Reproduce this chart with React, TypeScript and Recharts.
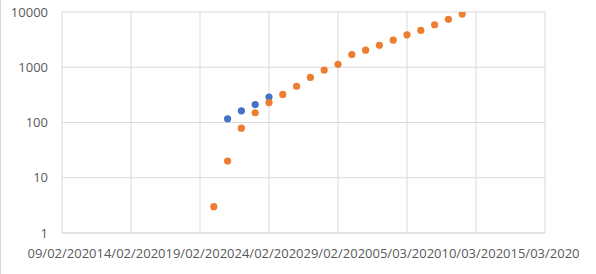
import { ScatterChart, Scatter, XAxis, YAxis, CartesianGrid } from 'recharts'

// series values
const orangeDates = [
  '20/02/2020', '21/02/2020', '22/02/2020', '23/02/2020', '24/02/2020', '25/02/2020',
  '26/02/2020', '27/02/2020', '28/02/2020', '29/02/2020', '01/03/2020', '02/03/2020',
  '03/03/2020', '04/03/2020', '05/03/2020', '06/03/2020', '07/03/2020', '08/03/2020',
  '09/03/2020',
]
const orangeValues = [3, 20, 79, 150, 229, 322, 453, 655, 888, 1128, 1694, 2036, 2502, 3089, 3858, 4636, 5883, 7375, 9172]

const blueDates = ['21/02/2020', '22/02/2020', '23/02/2020', '24/02/2020']
const blueValues = [117, 163, 211, 288]

const xTickLabels = [
  '09/02/2020', '14/02/2020', '19/02/2020', '24/02/2020',
  '29/02/2020', '05/03/2020', '10/03/2020', '15/03/2020',
]
const yTicks = [1, 10, 100, 1000, 10000]

const DAY = 86400000

function toDay(s: string) {
  const [d, m, y] = s.split('/').map(Number)
  return Date.UTC(y, m - 1, d) / DAY
}

function fmtDay(v: number) {
  const dt = new Date(v * DAY)
  const dd = String(dt.getUTCDate()).padStart(2, '0')
  const mm = String(dt.getUTCMonth() + 1).padStart(2, '0')
  return `${dd}/${mm}/${dt.getUTCFullYear()}`
}

const orange = orangeDates.map((d, i) => ({ x: toDay(d), y: orangeValues[i] }))
const blue = blueDates.map((d, i) => ({ x: toDay(d), y: blueValues[i] }))
const xTicks = xTickLabels.map(toDay)

const tickStyle = { fill: '#595959', fontSize: 13, fontFamily: '"Open Sans", sans-serif' }

export default function App() {
  return (
    <div style={{ position: 'absolute', left: 0, top: 0, width: 596, height: 274, background: '#fff' }}>
      <div style={{ position: 'absolute', left: 0, top: 0, width: 1, height: 274, background: '#d9d9d9' }} />
      <ScatterChart width={596} height={274} margin={{ top: 12, right: 51, left: 0, bottom: 0 }}>
        <CartesianGrid stroke="#d9d9d9" />
        <XAxis
          type="number"
          dataKey="x"
          domain={[xTicks[0], xTicks[xTicks.length - 1]]}
          ticks={xTicks}
          tickFormatter={fmtDay}
          tick={tickStyle}
          axisLine={{ stroke: '#d9d9d9' }}
          tickLine={false}
          tickMargin={10}
          height={41}
          interval={0}
          allowDataOverflow
        />
        <YAxis
          type="number"
          dataKey="y"
          scale="log"
          domain={[1, 10000]}
          ticks={yTicks}
          tick={tickStyle}
          axisLine={false}
          tickLine={false}
          tickMargin={8}
          width={62}
          interval={0}
          allowDataOverflow
        />
        <Scatter data={blue} fill="#4472C4" isAnimationActive={false} shape={(p: any) => <circle cx={p.cx} cy={p.cy} r={3.6} fill="#4472C4" />} />
        <Scatter data={orange} fill="#ED7D31" isAnimationActive={false} shape={(p: any) => <circle cx={p.cx} cy={p.cy} r={3.6} fill="#ED7D31" />} />
      </ScatterChart>
    </div>
  )
}
